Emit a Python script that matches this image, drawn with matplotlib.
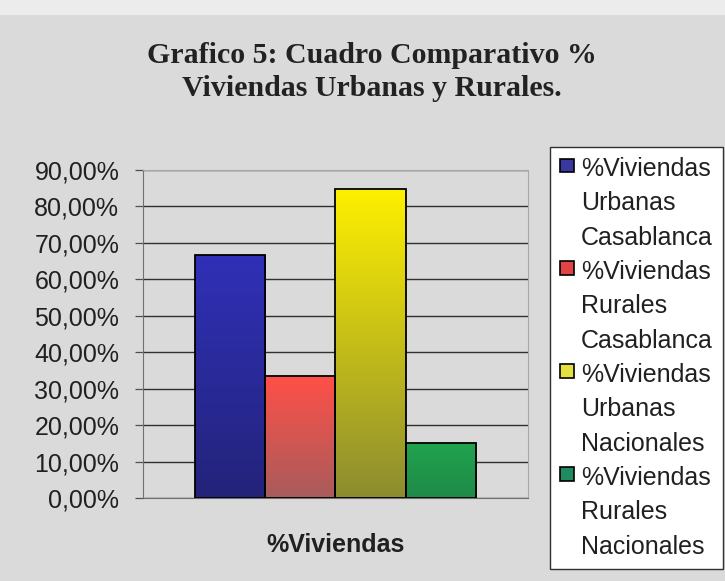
import matplotlib
matplotlib.use("Agg")
import matplotlib.pyplot as plt
import numpy as np
from matplotlib.colors import LinearSegmentedColormap
from matplotlib.patches import Patch, Rectangle
from matplotlib.legend_handler import HandlerPatch

title = "Grafico 5: Cuadro Comparativo %\nViviendas Urbanas y Rurales."
category = "%Viviendas"
series = ["%Viviendas\nUrbanas\nCasablanca", "%Viviendas\nRurales\nCasablanca",
          "%Viviendas\nUrbanas\nNacionales", "%Viviendas\nRurales\nNacionales"]
values = [66.6, 33.4, 84.9, 15.1]
yticks = [0, 10, 20, 30, 40, 50, 60, 70, 80, 90]
ticklabels = ["0,00%", "10,00%", "20,00%", "30,00%", "40,00%", "50,00%",
              "60,00%", "70,00%", "80,00%", "90,00%"]
top_colors = ["#3030b8", "#ff5048", "#fff000", "#1fa34e"]
bottom_colors = ["#23237a", "#a85c5c", "#8c8c30", "#208a48"]
legend_colors = ["#3838a0", "#e04444", "#e4e040", "#208a60"]

bg = "#dadada"
fig = plt.figure(figsize=(7.25, 5.81), dpi=100, facecolor="#ececec")
fig.patches.append(Rectangle((0.0, 0.0), 1.0, 0.975, transform=fig.transFigure,
                             facecolor=bg, edgecolor="none", zorder=-10))
ax = fig.add_axes([0.1972, 0.1429, 0.531, 0.5645])
ax.set_facecolor(bg)

w = 0.25
xs = (np.arange(len(values)) - 1.5) * w
bars = ax.bar(xs, values, width=w, edgecolor="black", linewidth=1.3,
              facecolor="none", zorder=3)
for b, c1, c2 in zip(bars, top_colors, bottom_colors):
    cmap = LinearSegmentedColormap.from_list("g", [c2, c1])
    grad = np.linspace(0, 1, 256).reshape(-1, 1)
    x0, y0 = b.get_x(), b.get_y()
    im = ax.imshow(grad, cmap=cmap, origin="lower", aspect="auto",
                   extent=(x0, x0 + b.get_width(), y0, y0 + b.get_height()),
                   zorder=2)
    im.set_clip_path(b)

ax.set_xlim(-0.685, 0.685)
ax.set_ylim(0, 90)
ax.set_yticks(yticks)
ax.set_yticklabels(ticklabels, fontfamily="Liberation Sans", fontsize=18,
                   color="#202020")
ax.tick_params(axis="y", direction="out", length=6, width=0.9, color="#505050", pad=11)
ax.set_xticks([])
ax.yaxis.grid(True, color="#303030", linewidth=1.0, zorder=1)
for s in ["top", "right"]:
    ax.spines[s].set_color("#a8a8a8")
    ax.spines[s].set_linewidth(0.8)
ax.spines["left"].set_color("#707070")
ax.spines["bottom"].set_color("#707070")
ax.set_xlabel(category, fontfamily="Liberation Sans", fontsize=18,
              fontweight="bold", labelpad=25, color="#202020")

fig.text(0.513, 1 - 72 / 581, title, ha="center", va="center",
         fontfamily="Liberation Serif", fontsize=21.5, fontweight="bold",
         linespacing=1.33, color="#222222")


class TopHandler(HandlerPatch):
    def create_artists(self, legend, orig_handle, xdescent, ydescent, width,
                       height, fontsize, trans):
        size = fontsize * 0.55
        off = fontsize * 1.55
        p = Rectangle((-xdescent, -ydescent + (height - size) / 2 + off), size, size,
                      facecolor=orig_handle.get_facecolor(), edgecolor="black",
                      linewidth=1.2, transform=trans)
        return [p]


handles = [Patch(facecolor=c, edgecolor="black") for c in legend_colors]
leg = fig.legend(handles, series, loc="upper left",
                 bbox_to_anchor=(550 / 725, 1 - 147 / 581),
                 prop={"family": "Liberation Sans", "size": 18},
                 frameon=True, fancybox=False, framealpha=1, edgecolor="#303030",
                 handlelength=0.55, handleheight=0.7, handletextpad=0.3,
                 labelspacing=0.4, borderpad=0.4, borderaxespad=0,
                 handler_map={Patch: TopHandler()})
leg.get_frame().set_linewidth(1.0)
for t in leg.get_texts():
    t.set_linespacing(1.55)
    t.set_color("#202020")

fig.savefig("out.png", dpi=100, facecolor=fig.get_facecolor())
